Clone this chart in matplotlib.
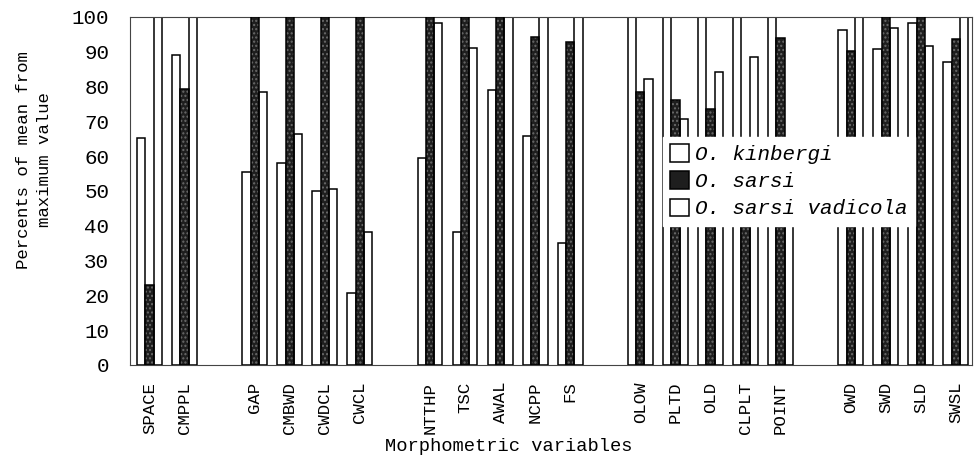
import numpy as np
import matplotlib
matplotlib.use('Agg')
import matplotlib.pyplot as plt
from matplotlib.patches import Patch

plt.rcParams['font.family'] = ['Liberation Mono', 'DejaVu Sans Mono']

# variable groups (a blank slot is left between groups)
groups = [
    ['SPACE', 'CMPPL'],
    ['GAP', 'CMBWD', 'CWDCL', 'CWCL'],
    ['NTTHP', 'TSC', 'AWAL', 'NCPP', 'FS'],
    ['OLOW', 'PLTD', 'OLD', 'CLPLT', 'POINT'],
    ['OWD', 'SWD', 'SLD', 'SWSL'],
]

kinbergi = [65.1, 89.1, 55.5, 58.1, 50.1, 20.8, 59.4, 38.3, 79.0, 65.8, 35.2,
            100, 100, 100, 100, 100, 96.4, 90.7, 98.2, 87.2]
sarsi = [23.0, 79.2, 100, 100, 100, 100, 100, 100, 100, 94.2, 92.7,
         78.5, 76.1, 73.7, 55.0, 93.9, 90.3, 100, 100, 93.6]
vadicola = [100, 100, 78.4, 66.3, 50.5, 38.1, 98.2, 91.0, 100, 100, 100,
            82.1, 70.6, 84.3, 88.6, 50.0, 100, 96.7, 91.7, 100]

labels = []
positions = []
for g, names in enumerate(groups):
    for name in names:
        positions.append(len(labels) + g)
        labels.append(name)
positions = np.array(positions)

fig = plt.figure(figsize=(9.75, 4.69), dpi=100)
ax = fig.add_axes([130 / 975, 1 - 365 / 469, 842 / 975, 348 / 469])

w = 0.237
dark = '#1e1e1e'
ax.bar(positions - w, kinbergi, width=w, facecolor='white', edgecolor='black', linewidth=1.1, zorder=2)
# dark speckled fill, then a black outline on top
ax.bar(positions, sarsi, width=w, facecolor=dark, edgecolor='#6a6a6a', hatch='....', linewidth=0, zorder=2)
ax.bar(positions, sarsi, width=w, fill=False, edgecolor='black', linewidth=1.1, zorder=3)
ax.bar(positions + w, vadicola, width=w, facecolor='white', edgecolor='black', linewidth=1.1, zorder=2)

ax.set_xlim(-0.556, 23.46)
ax.set_ylim(0, 100)
ax.set_yticks(np.arange(0, 101, 10))
ax.set_xticks(positions)
ax.set_xticklabels(labels, rotation=90, fontsize=12.5)
ax.tick_params(axis='x', length=0, pad=12)
ax.tick_params(axis='y', length=0, pad=15, labelsize=15)
for s in ax.spines.values():
    s.set_linewidth(0.8)
    s.set_color('#444444')

ax.set_xlabel('Morphometric variables', fontsize=13.5)
ax.xaxis.set_label_coords(0.45, -0.21)
ax.set_ylabel('Percents of mean from\nmaximum value', fontsize=12.5, linespacing=1.45)
ax.yaxis.set_label_coords(-0.093, 0.59)

handles = [
    Patch(facecolor='white', edgecolor='black', linewidth=1.1, label='O. kinbergi'),
    Patch(facecolor=dark, edgecolor='black', linewidth=1.1, label='O. sarsi'),
    Patch(facecolor='white', edgecolor='black', linewidth=1.1, label='O. sarsi vadicola'),
]
leg = ax.legend(handles=handles, loc='upper left', bbox_to_anchor=(0.633, 0.655),
                prop={'style': 'italic', 'size': 15}, frameon=True, fancybox=False,
                handlelength=0.9, handleheight=0.9, handletextpad=0.3,
                borderpad=0.35, labelspacing=0.35, borderaxespad=0)
leg.get_frame().set_edgecolor('white')
leg.get_frame().set_alpha(1)
leg.set_zorder(5)

plt.savefig('out.png', dpi=100)
